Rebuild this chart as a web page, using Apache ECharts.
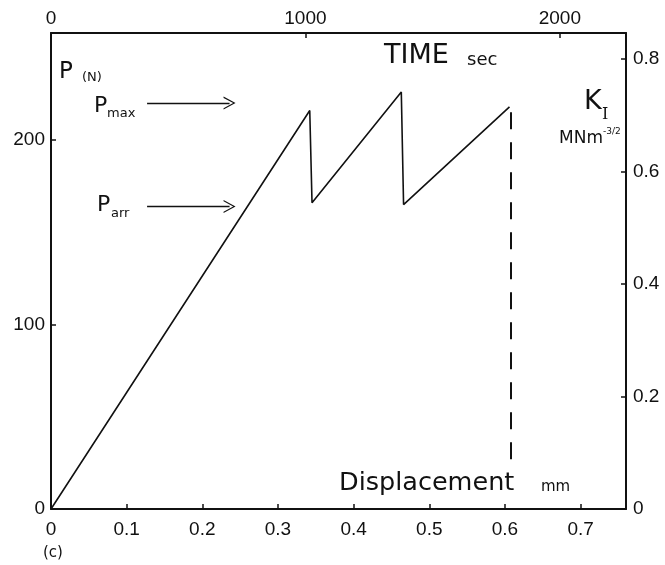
<!DOCTYPE html>
<html>
<head>
<meta charset="utf-8">
<script src="https://cdn.jsdelivr.net/npm/echarts@6/dist/echarts.min.js"></script>
<style>
  html, body { margin: 0; padding: 0; background: #fff; }
  #chart { width: 665px; height: 565px; }
</style>
</head>
<body>
<div id="chart"></div>
<script>
// load curve: displacement (mm) vs load P (N)
const displacement = [0, 0.342, 0.345, 0.463, 0.466, 0.606];
const load = [0, 216, 166, 226, 165, 218];

// dashed end-of-test marker
const endX = 0.608;
const endLoads = [215, 25];

// Pmax / Parr arrows (load level, displacement from -> to)
const arrowLoads = [220, 164];
const arrowFrom = 0.127;
const arrowTo = 0.236;

// tick labels
const dispTicks = [0, 0.1, 0.2, 0.3, 0.4, 0.5, 0.6, 0.7];
const timeTicks = [0, 1000, 2000];
const loadTicks = [0, 100, 200];
const kTicks = [0, 0.2, 0.4, 0.6, 0.8];

const ink = '#111';
const numFont = 'Liberation Sans';
const txtFont = 'DejaVu Sans';

const chart = echarts.init(document.getElementById('chart'));

// shared axis look, ticks pointing into the plot
const makeAxis = (ticks, pos, min, max, margin) => ({
  type: 'value',
  position: pos,
  min: min,
  max: max,
  splitLine: { show: false },
  axisLine: { show: true, onZero: false, lineStyle: { color: ink, width: 2 } },
  axisTick: { show: true, inside: true, length: 5, customValues: ticks, lineStyle: { color: ink, width: 1.5 } },
  axisLabel: {
    customValues: ticks,
    margin: margin,
    color: ink,
    fontFamily: numFont,
    fontSize: 19,
    formatter: v => String(v)
  }
});

const curve = displacement.map((d, i) => [d, load[i]]);
const dash = endLoads.map(p => [endX, p]);

const chevron = 'path://M0,100 L50,0 L100,100 L90,100 L50,20 L10,100 Z';

const text = (t, x, y, size, family) => ({
  type: 'text', x: x, y: y,
  style: { text: t, font: size + 'px "' + (family || txtFont) + '"', fill: ink, verticalAlign: 'middle' }
});

const option = {
  animation: false,
  grid: { left: 51, right: 39, top: 33, bottom: 56 },
  xAxis: [
    makeAxis(dispTicks, 'bottom', 0, 0.76, 11),
    makeAxis(timeTicks, 'top', 0, 2260, 5)
  ],
  yAxis: [
    makeAxis(loadTicks, 'left', 0, 258, 6),
    makeAxis(kTicks, 'right', 0, 0.846, 7)
  ],
  series: [
    {
      type: 'line',
      data: curve,
      symbol: 'none',
      lineStyle: { color: ink, width: 1.6 },
      markLine: {
        silent: true,
        symbol: ['none', chevron],
        symbolSize: [13, 12],
        label: { show: false },
        lineStyle: { color: ink, width: 1.4, type: 'solid' },
        data: arrowLoads.map(p => [{ coord: [arrowFrom, p] }, { coord: [arrowTo, p] }])
      }
    },
    {
      type: 'line',
      data: dash,
      symbol: 'none',
      lineStyle: { color: ink, width: 2, type: [17, 13] }
    }
  ],
  graphic: [
    text('TIME', 384, 56, 27),
    text('sec', 467, 60, 18),
    text('P', 59, 72, 23),
    text('(N)', 82, 78, 13),
    text('P', 94, 106, 22),
    text('max', 107, 114, 13),
    text('P', 97, 205, 22),
    text('arr', 111, 214, 13),
    text('K', 584, 102, 27),
    text('I', 602, 115, 16, 'DejaVu Serif'),
    text('MNm', 559, 139, 17),
    text('-3/2', 603, 132, 9),
    text('Displacement', 339, 483, 25.5),
    text('mm', 541, 487, 15),
    text('(c)', 43, 553, 15)
  ]
};

chart.setOption(option);
</script>
</body>
</html>
